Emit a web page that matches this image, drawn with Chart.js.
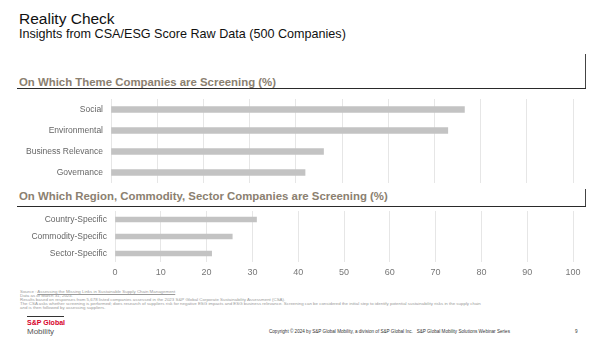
<!DOCTYPE html>
<html>
<head>
<meta charset="utf-8">
<script src="https://cdn.jsdelivr.net/npm/chart.js@4.4.1/dist/chart.umd.min.js"></script>
<style>
    body { margin: 0; background: #fff; font-family: "Liberation Sans", Arial, sans-serif; }
    #page { position: relative; width: 602px; height: 339px; overflow: hidden; background: #fff; }
    .txt { position: absolute; white-space: nowrap; line-height: 1; }
    .title { left: 19px; top: 11px; font-size: 15.5px; color: #111; }
    .subtitle { left: 19px; top: 28px; font-size: 12.6px; color: #111; }
    .section { left: 19px; font-size: 11.4px; font-weight: bold; color: #8b8070; }
    .hline { position: absolute; height: 1.5px; background: #2a2a2a; }
    .vline { position: absolute; width: 1px; background: #444; }
    .note { left: 20px; font-size: 4.4px; color: #9a9a9a; }
    .chart-box { position: absolute; left: 0; }
</style>
</head>
<body>
<div id="page">
    <div class="txt title">Reality Check</div>
    <div class="txt subtitle">Insights from CSA/ESG Score Raw Data (500 Companies)</div>

    <div class="txt section" style="top: 77px;">On Which Theme Companies are Screening (%)</div>
    <div class="vline" style="left: 585px; top: 54px; height: 35px;"></div>
    <div class="hline" style="left: 17px; top: 87.5px; width: 569px;"></div>

    <div class="chart-box" style="top: 99px;">
        <canvas id="themeChart" width="602" height="84"></canvas>
    </div>

    <div class="txt section" style="top: 191px;">On Which Region, Commodity, Sector Companies are Screening (%)</div>
    <div class="vline" style="left: 585px; top: 189px; height: 18px;"></div>
    <div class="hline" style="left: 17px; top: 205.5px; width: 569px;"></div>

    <div class="chart-box" style="top: 211px;">
        <canvas id="regionChart" width="602" height="71"></canvas>
    </div>

    <div class="txt note" style="top: 289.5px;">Source : <u>Assessing the Missing Links in Sustainable Supply Chain Management</u></div>
    <div class="txt note" style="top: 293.5px;">Data as of March 31, 2024.</div>
    <div class="txt note" style="top: 297.5px;">Results based on responses from 5,678 listed companies assessed in the 2023 S&amp;P Global Corporate Sustainability Assessment (CSA).</div>
    <div class="txt note" style="top: 301.5px;">The CSA asks whether screening is performed; does research of suppliers risk for negative ESG impacts and ESG business relevance. Screening can be considered the initial step to identify potential sustainability risks in the supply chain</div>
    <div class="txt note" style="top: 305.5px;">and is then followed by assessing suppliers.</div>

    <div class="hline" style="left: 27px; top: 316px; width: 37px; height: 1px; background: #333;"></div>
    <div class="txt" style="left: 27px; top: 318.5px; font-size: 7px; font-weight: bold; color: #d6002a;">S&amp;P Global</div>
    <div class="txt" style="left: 27px; top: 328px; font-size: 8px; color: #555;">Mobility</div>
    <div class="txt" style="left: 269px; top: 329.5px; font-size: 4.6px; color: #333;">Copyright © 2024 by S&amp;P Global Mobility, a division of S&amp;P Global Inc.&nbsp;&nbsp; S&amp;P Global Mobility Solutions Webinar Series</div>
    <div class="txt" style="left: 575px; top: 329.5px; font-size: 4.6px; color: #333;">9</div>
</div>

<script>
// theme screening (%)
const themeLabels = ['Social', 'Environmental', 'Business Relevance', 'Governance'];
const themeValues = [76.5, 72.9, 46.0, 42.0];

// region / commodity / sector screening (%)
const regionLabels = ['Country-Specific', 'Commodity-Specific', 'Sector-Specific'];
const regionValues = [30.9, 25.6, 21.1];

const xTicks = [0, 10, 20, 30, 40, 50, 60, 70, 80, 90, 100];

const barColor = '#c3c3c3';
const gridColor = '#e6e6e6';
const fontFamily = '"Liberation Sans", Arial, sans-serif';

function makeChart(canvasId, labels, values, opts) {
    const ctx = document.getElementById(canvasId).getContext('2d');
    return new Chart(ctx, {
        type: 'bar',
        data: {
            labels: labels,
            datasets: [{
                data: values,
                backgroundColor: barColor,
                borderWidth: 0,
                barThickness: opts.barThickness,
            }]
        },
        options: {
            indexAxis: 'y',
            responsive: false,
            animation: false,
            devicePixelRatio: 1,
            layout: {
                padding: { left: 0, right: 29, top: 0, bottom: 0 }
            },
            plugins: {
                legend: { display: false },
                tooltip: { enabled: false },
            },
            scales: {
                x: {
                    min: 0,
                    max: 100,
                    afterBuildTicks: scale => {
                        scale.ticks = xTicks.map(v => ({ value: v }));
                    },
                    afterFit: scale => {
                        scale.height = opts.xHeight;
                        scale.paddingLeft = 0;
                        scale.paddingRight = 0;
                    },
                    grid: {
                        color: gridColor,
                        lineWidth: 1,
                        drawTicks: false,
                    },
                    border: { display: false },
                    ticks: {
                        display: opts.showX,
                        color: '#777',
                        padding: 5,
                        font: { family: fontFamily, size: 9 },
                    },
                },
                y: {
                    afterFit: scale => {
                        scale.width = opts.yWidth;
                        // keep label half-heights from shrinking the plot
                        scale.paddingTop = 0;
                        scale.paddingBottom = 0;
                    },
                    grid: { display: false, drawTicks: false },
                    border: { display: false },
                    ticks: {
                        autoSkip: false,
                        color: '#666',
                        padding: 8,
                        font: { family: fontFamily, size: 8.5 },
                    },
                },
            },
        },
    });
}

makeChart('themeChart', themeLabels, themeValues, {
    barThickness: 6,
    xHeight: 0,
    showX: false,
    yWidth: 111,
});

makeChart('regionChart', regionLabels, regionValues, {
    barThickness: 5,
    xHeight: 20,
    showX: true,
    yWidth: 115,
});
</script>
</body>
</html>
